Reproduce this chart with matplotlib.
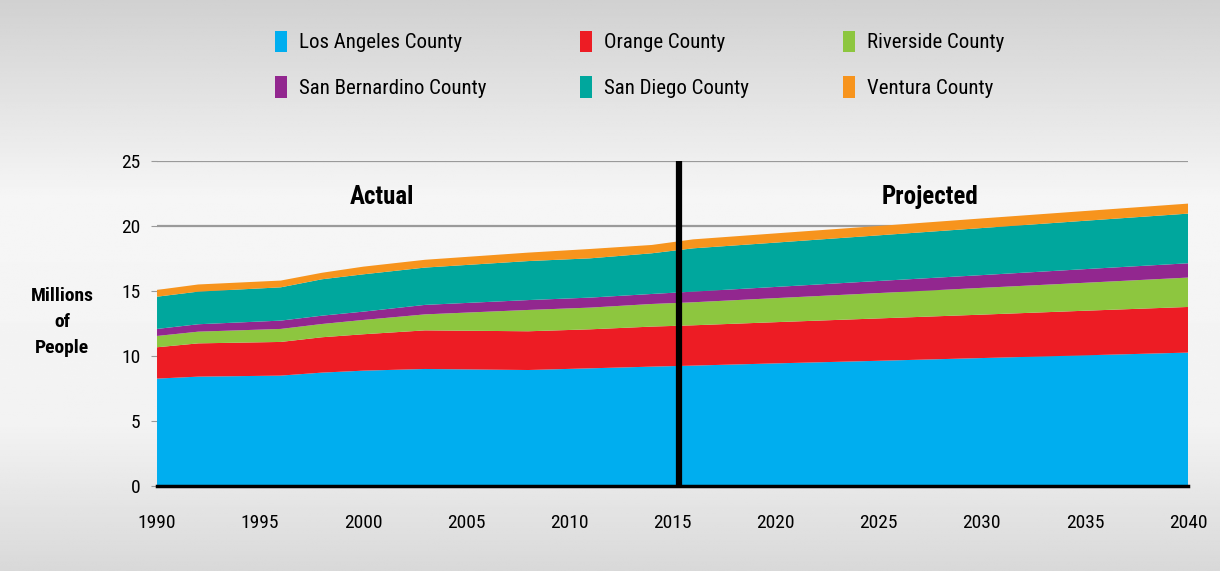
import numpy as np
import matplotlib
matplotlib.use('Agg')
import matplotlib.pyplot as plt
from matplotlib import font_manager

# 데이터 (백만 명 단위, 카운티별 값)
years = [1990, 1992, 1996, 1998, 2000, 2003, 2008, 2011, 2014, 2016,
         2020, 2025, 2030, 2035, 2040]
los_angeles = [8.26, 8.41, 8.49, 8.72, 8.87, 9.00, 8.92, 9.05, 9.18, 9.26,
               9.43, 9.63, 9.84, 10.05, 10.26]
orange = [2.41, 2.56, 2.59, 2.72, 2.80, 2.97, 2.98, 3.00, 3.08, 3.10,
          3.17, 3.26, 3.34, 3.43, 3.51]
riverside = [0.87, 0.90, 1.00, 1.02, 1.10, 1.23, 1.64, 1.67, 1.74, 1.77,
             1.85, 1.95, 2.06, 2.15, 2.26]
san_bernardino = [0.54, 0.57, 0.64, 0.64, 0.64, 0.73, 0.76, 0.77, 0.77, 0.82,
                  0.86, 0.93, 0.98, 1.05, 1.10]
san_diego = [2.48, 2.51, 2.56, 2.80, 2.87, 2.87, 3.00, 3.02, 3.13, 3.33,
             3.41, 3.51, 3.62, 3.72, 3.82]
ventura = [0.52, 0.55, 0.52, 0.50, 0.59, 0.60, 0.65, 0.72, 0.64, 0.69,
           0.71, 0.72, 0.74, 0.75, 0.77]

labels = ['Los Angeles County', 'Orange County', 'Riverside County',
          'San Bernardino County', 'San Diego County', 'Ventura County']
colors = ['#00AEEF', '#ED1C24', '#8DC63F', '#92278F', '#00A79D', '#F7941D']

x_ticks = [1990, 1995, 2000, 2005, 2010, 2015, 2020, 2025, 2030, 2035, 2040]
y_ticks = [0, 5, 10, 15, 20, 25]
split_year = 2015.3

# 좁은 글꼴 찾기 (없으면 Roboto)
fonts = font_manager.fontManager.ttflist
family, stretch, scale = 'Roboto', 'normal', 0.86
for name in ['Liberation Sans Narrow', 'Roboto Condensed', 'Open Sans Condensed']:
    if any(f.name == name for f in fonts):
        family, stretch, scale = name, 'normal', 1.0
        break
else:
    if any(f.name == 'DejaVu Sans' and f.stretch == 'condensed' for f in fonts):
        family, stretch, scale = 'DejaVu Sans', 'condensed', 0.85
plt.rcParams['font.family'] = [family, 'DejaVu Sans']
plt.rcParams['font.stretch'] = stretch

fig = plt.figure(figsize=(12.2, 5.71), dpi=100)

# 배경 그라데이션
bg = fig.add_axes([0, 0, 1, 1], zorder=-10)
pos = np.linspace(0, 1, 300)
shade = np.interp(pos, [0, 0.35, 0.75, 1.0], [0.82, 0.965, 0.95, 0.85])
bg.imshow(np.tile(shade[:, None], (1, 10)), cmap='gray', vmin=0, vmax=1,
          aspect='auto', extent=[0, 1, 0, 1], origin='upper')
bg.set_xlim(0, 1)
bg.set_ylim(0, 1)
bg.axis('off')

ax = fig.add_axes([0.1287, 0.1489, 0.8451, 0.5692])
ax.set_facecolor('none')

for yv in y_ticks[1:]:
    ax.axhline(yv, color='#9a9a9a', lw=1.6, zorder=0)

polys = ax.stackplot(years, los_angeles, orange, riverside, san_bernardino,
                     san_diego, ventura, colors=colors, labels=labels, zorder=2)

ax.axvline(split_year, color='black', lw=4.5, zorder=5)

ax.set_xlim(1990, 2040)
ax.set_ylim(0, 25)
ax.set_xticks(x_ticks)
ax.set_yticks(y_ticks)
ax.tick_params(axis='x', length=0, pad=20, labelsize=14 * scale)
ax.tick_params(axis='y', length=4, color='#9a9a9a', pad=8, labelsize=14 * scale)

for s in ['top', 'right', 'left']:
    ax.spines[s].set_visible(False)
ax.spines['bottom'].set_linewidth(2.5)
ax.spines['bottom'].set_zorder(6)

ax.text(2000.9, 22.2, 'Actual', ha='center', va='center',
        fontsize=18 * scale, fontweight='bold')
ax.text(2027.5, 22.2, 'Projected', ha='center', va='center',
        fontsize=18 * scale, fontweight='bold')

fig.text(62 / 1220, 1 - 322 / 571, 'Millions\nof\nPeople', ha='center',
         va='center', fontsize=14 * scale, fontweight='bold', linespacing=1.6)

# 범례: 가로 방향 순서로 배치
order = [0, 3, 1, 4, 2, 5]
fig.legend([polys[i] for i in order], [labels[i] for i in order],
           loc='upper left', bbox_to_anchor=(256 / 1220, 1 - 12 / 571),
           ncol=3, frameon=False, fontsize=15 * scale, handlelength=0.6,
           handleheight=1.2, handletextpad=0.55, columnspacing=4.5,
           labelspacing=1.15)

plt.savefig('out.png', dpi=100)
